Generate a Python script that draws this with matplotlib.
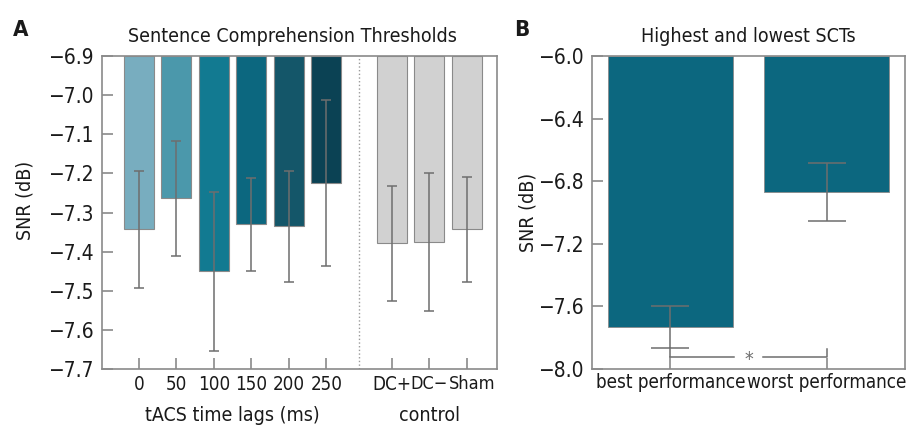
import matplotlib
matplotlib.use("Agg")
import matplotlib.pyplot as plt
import matplotlib.transforms as mtransforms
import numpy as np

plt.rcParams['font.family'] = ['DejaVu Sans']
plt.rcParams['font.stretch'] = 'condensed'

# panel A: sentence comprehension thresholds
labels_a = ['0', '50', '100', '150', '200', '250', 'DC+', 'DC\u2212', 'Sham']
snr_a = [-7.343, -7.264, -7.450, -7.330, -7.335, -7.225, -7.379, -7.375, -7.343]
err_a = [0.150, 0.147, 0.203, 0.119, 0.142, 0.212, 0.146, 0.176, 0.134]
colors_a = ['#78adbf', '#4b98ab', '#127a91', '#0c677f', '#145669', '#0b4254',
            '#d1d1d1', '#d1d1d1', '#d1d1d1']

# panel B: highest and lowest SCTs
labels_b = ['best performance', 'worst performance']
snr_b = [-7.732, -6.869]
err_b = [0.132, 0.187]

spine_col = '#8a8a8a'
err_col = '#6e6e6e'
text_col = '#1a1a1a'


def minus_fmt(v, pos):
    return ('%.1f' % v).replace('-', '\u2212')


fig = plt.figure(figsize=(9.13, 4.32), dpi=100)
W, H = 913, 432
axA = fig.add_axes([102 / W, 63 / H, 395 / W, 313 / H])
axB = fig.add_axes([592 / W, 63 / H, 313 / W, 313 / H])

# bars hang down from the top of the axis
xa = np.array([1, 2, 3, 4, 5, 6, 7.75, 8.75, 9.75])
top_a = -6.9
axA.bar(xa, np.array(snr_a) - top_a, bottom=top_a, width=0.8, color=colors_a,
        edgecolor='#8a8a8a', linewidth=0.8, zorder=2)
axA.errorbar(xa, snr_a, yerr=err_a, fmt='none', ecolor=err_col, elinewidth=1.1,
             capsize=3.6, capthick=1.1, zorder=3)
axA.axvline(6.88, color='#9a9a9a', linestyle=':', linewidth=1.0, zorder=1)
axA.set_xlim(0.02, 10.55)
axA.set_ylim(-7.7, -6.9)
axA.set_yticks(np.arange(-7.7, -6.85, 0.1))
axA.set_xticks(xa)
axA.set_xticklabels(labels_a)
axA.set_ylabel('SNR (dB)', fontsize=14, color=text_col)
axA.yaxis.set_label_coords(-0.172, 0.54)
axA.set_title('Sentence Comprehension Thresholds', fontsize=14, color=text_col,
              pad=10, x=0.482)
xlab = axA.get_xaxis_transform()
axA.text(3.5, -0.147, 'tACS time lags (ms)', ha='center', va='center',
         fontsize=14, color=text_col, transform=xlab, clip_on=False)
axA.text(8.75, -0.147, 'control', ha='center', va='center',
         fontsize=14, color=text_col, transform=xlab, clip_on=False)

xb = np.array([0, 1])
top_b = -6.0
axB.bar(xb, np.array(snr_b) - top_b, bottom=top_b, width=0.8, color='#0c677f',
        edgecolor='#8a8a8a', linewidth=0.6, zorder=2)
axB.errorbar(xb, snr_b, yerr=err_b, fmt='none', ecolor=err_col, elinewidth=1.1,
             capsize=14, capthick=1.1, zorder=3)
# significance bracket
yb = -7.925
axB.plot([0, 0], [-7.864, yb], color=err_col, lw=1.1, zorder=3)
axB.plot([0, 0.41], [yb, yb], color=err_col, lw=1.1, zorder=3)
axB.plot([0.59, 1, 1], [yb, yb, -7.875], color=err_col, lw=1.1, zorder=3)
axB.text(0.5, -7.94, '*', ha='center', va='center', fontsize=14, color=err_col)
axB.set_xlim(-0.5, 1.5)
axB.set_ylim(-8.0, -6.0)
axB.set_yticks([-8.0, -7.6, -7.2, -6.8, -6.4, -6.0])
axB.set_xticks(xb)
axB.set_xticklabels(labels_b)
axB.set_ylabel('SNR (dB)', fontsize=14, color=text_col)
axB.yaxis.set_label_coords(-0.173, 0.5)
axB.set_title('Highest and lowest SCTs', fontsize=14, color=text_col, pad=10)

for ax in (axA, axB):
    for s in ax.spines.values():
        s.set_color(spine_col)
        s.set_linewidth(1.2)
    ax.tick_params(axis='both', direction='in', length=8, width=1.2,
                   color=spine_col, labelsize=15, labelcolor=text_col, pad=6)
    ax.tick_params(axis='x', pad=4)
    ax.yaxis.set_major_formatter(matplotlib.ticker.FuncFormatter(minus_fmt))

axA.tick_params(axis='x', labelsize=13.5)
axB.tick_params(axis='x', labelsize=13.5, pad=3)

# the control labels sit tight together, as in the original
ticklabs = axA.get_xticklabels()
ticklabs[7].set_fontsize(13)
ticklabs[8].set_fontsize(13)
ticklabs[8].set_transform(ticklabs[8].get_transform() +
                          mtransforms.ScaledTranslation(4 / 72, 0, fig.dpi_scale_trans))

fig.text(13 / W, 1 - 30 / H, 'A', fontsize=16, fontweight='bold', va='center', color=text_col)
fig.text(514 / W, 1 - 30 / H, 'B', fontsize=16, fontweight='bold', va='center', color=text_col)

fig.savefig('out.png', dpi=100)
